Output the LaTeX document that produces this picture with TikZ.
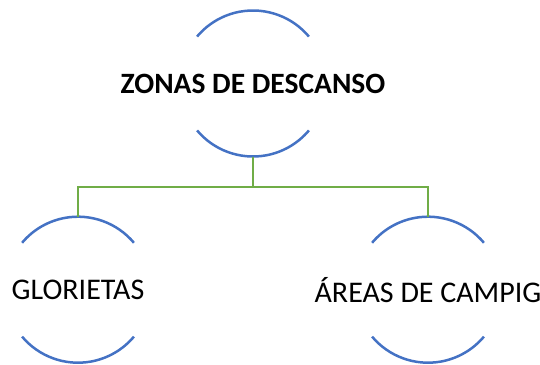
\documentclass[tikz,border=0pt]{standalone}
\usepackage{fontspec}
\setmainfont{Carlito}
\usetikzlibrary{positioning}

\definecolor{ringblue}{HTML}{4472C4}
\definecolor{linkgreen}{HTML}{70AD47}

\begin{document}
\begin{tikzpicture}[
    x=1pt, y=1pt,
    spot/.style={circle, minimum size=146pt, inner sep=0pt, outer sep=0pt},
    ring/.style={draw=ringblue, line width=2.5pt},
    link/.style={draw=linkgreen, line width=2.5pt},
    title/.style={font=\fontsize{29.5}{34}\selectfont\bfseries},
    item/.style={font=\fontsize{30}{34}\selectfont}
  ]
    \useasboundingbox (0,0) rectangle (540,-364);

    \node[spot, label={[title]center:ZONAS DE DESCANSO}] (zonas) at (253,-83.5) {};
    \node[spot, label={[item]center:GLORIETAS}] (glorietas) at (78,-289.7) {};
    \node[spot, label={[item]center:ÁREAS DE CAMPIG}] (areas) at (428,-289.7) {};

    \foreach \n in {zonas, glorietas, areas} {
      \draw[ring] (\n.40) arc[start angle=40, end angle=140, radius=73pt];
      \draw[ring] (\n.220) arc[start angle=220, end angle=320, radius=73pt];
    }

    \draw[link] (zonas.south) -- ++(0,-30.5) -| (glorietas.north);
    \draw[link] (zonas.south) -- ++(0,-30.5) -| (areas.north);
  \end{tikzpicture}
\end{document}
